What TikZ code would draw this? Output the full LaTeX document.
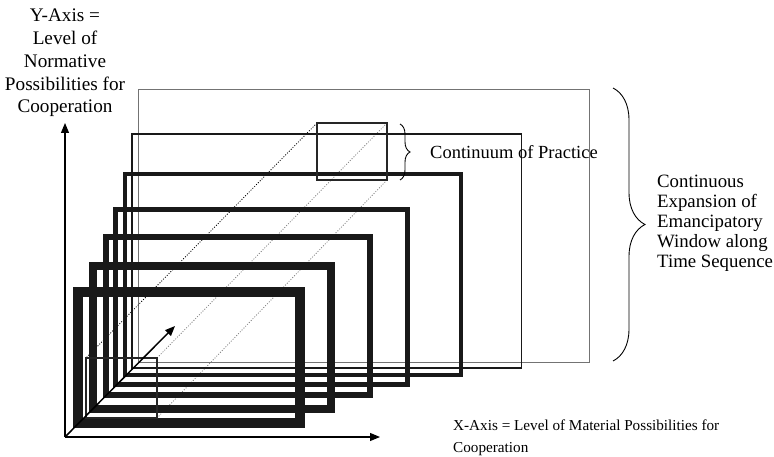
\documentclass[tikz,border=0pt]{standalone}
\usepackage{fontspec}
\setmainfont{Liberation Serif}
\usetikzlibrary{arrows.meta,decorations.pathreplacing}
\begin{document}
\begin{tikzpicture}[
    x=1pt,y=-1pt,
    frame/.style={draw=black!90,line join=miter},
    window/.style={draw=black!85,line width=1.6pt},
    guide/.style={line width=0.8pt,dash pattern=on 1pt off 1.6pt},
    axis/.style={line width=1.1pt,-{Triangle[length=10pt,width=8pt]}},
    label/.style={inner sep=0pt,font=\fontsize{18.5}{20}\selectfont},
    bracket/.style={decorate,line width=0.9pt}
]
\useasboundingbox (0,0) rectangle (774,457);

% window corners, back and front
\coordinate (wtl) at (317,123);
\coordinate (wtr) at (387,123);
\coordinate (wbr) at (387,180);
\coordinate (ftl) at (86,358);
\coordinate (ftr) at (157,358);
\coordinate (fbr) at (157,418);

% the widest, faintest frame first
\draw[frame,draw=black!55,line width=1pt] (138,90) rectangle (589,362);

\draw[guide,black] (wtl) -- (ftl);
\draw[guide,black!50] (wtr) -- (ftr);
\draw[guide,black!50] (wbr) -- (fbr);

\draw[frame,line width=1.5pt] (132,134) rectangle (521.5,368);
\draw[frame,line width=4pt] (125,174) rectangle (460.5,375);
\draw[frame,line width=5pt] (115.5,209.5) rectangle (407.5,384.5);
\draw[frame,line width=6pt] (105.5,237) rectangle (370,395);
\draw[frame,line width=8pt] (93,266) rectangle (331,408.5);
\draw[frame,line width=10pt] (78,292) rectangle (299.5,423);

\draw[window] (wtl) rectangle (wbr);
\draw[window,line width=1.2pt] (ftl) rectangle (fbr);

% axes
\coordinate (o) at (65,437);
\coordinate (ytip) at (65,123);
\coordinate (xtip) at (380,437);
\coordinate (ztip) at (175,326);
\draw[axis] (o) -- (ytip);
\draw[axis] (o) -- (xtip);
\draw[axis,line width=1.5pt] (o) -- (ztip);

\node[label,align=center,font=\fontsize{19.2}{22.75}\selectfont] (ylab) at (65,63)
    {Y-Axis =\\Level of\\Normative\\Possibilities for\\Cooperation};
\node[label,align=left,anchor=west,font=\fontsize{15.2}{22}\selectfont] (xlab) at (453,438)
    {X-Axis = Level of Material Possibilities for\\Cooperation};

% braces
\coordinate (b1) at (400,124);
\coordinate (b2) at (400,180);
\draw[bracket,decoration={brace,amplitude=10pt}] (b1) -- (b2);
\node[label,anchor=west] (cont) at (430,152) {Continuum of Practice};

\coordinate (B1) at (613,88);
\coordinate (B2) at (613,361);
\draw[bracket,decoration={brace,amplitude=32pt}] (B1) -- (B2);
\node[label,align=left,anchor=west,font=\fontsize{18.8}{20}\selectfont] (expand) at (657,223)
    {Continuous\\Expansion of\\Emancipatory\\Window along\\Time Sequence};
\end{tikzpicture}
\end{document}
